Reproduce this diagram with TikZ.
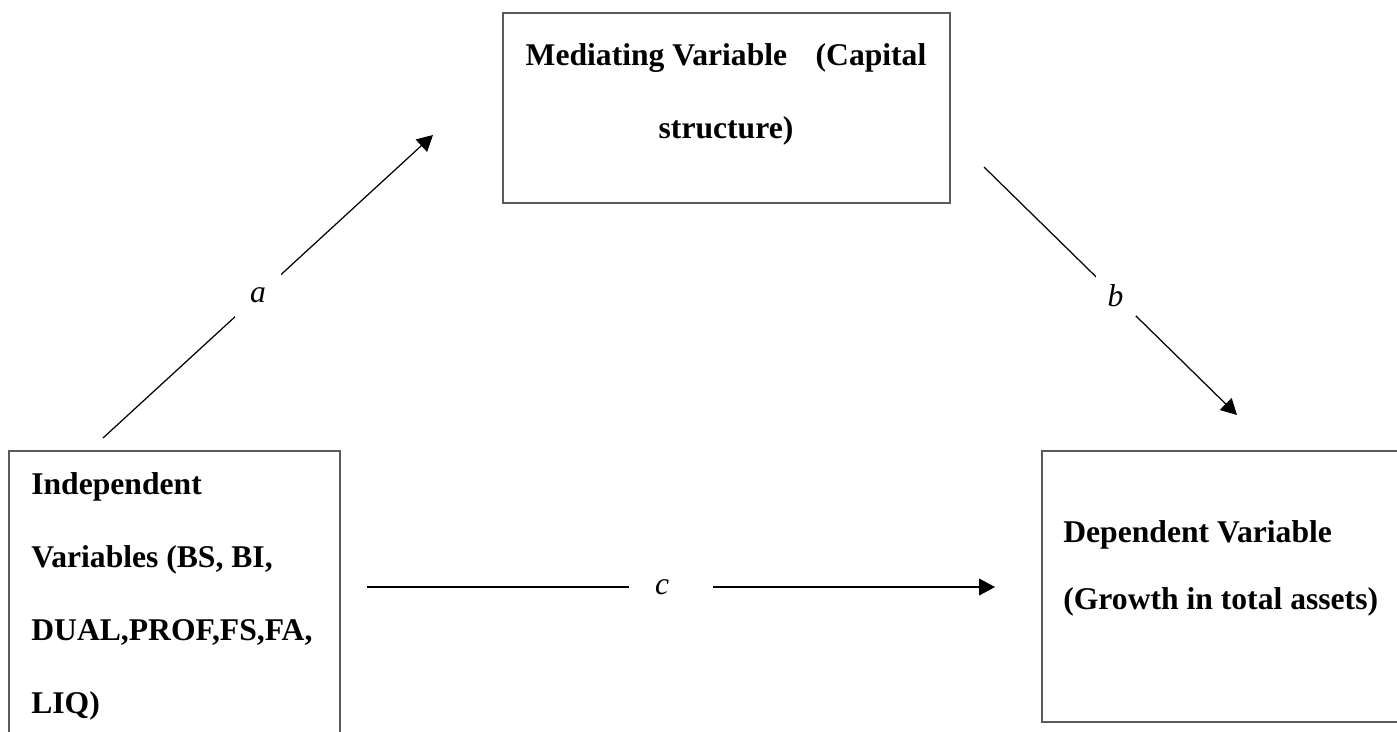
\documentclass[tikz,border=0pt]{standalone}
\usepackage{fontspec}
\setmainfont{Liberation Serif}
\usetikzlibrary{arrows.meta,positioning}

\definecolor{boxgrey}{RGB}{90,90,90}

\begin{document}
\begin{tikzpicture}[x=0.02cm,y=-0.02cm,
	box/.style={draw=boxgrey, line width=1.1pt},
	txt/.style={inner sep=0pt, font=\bfseries\fontsize{18}{41.5}\selectfont},
	path/.style={line width=0.7pt, -{Triangle[length=9pt,width=9.5pt]}},
	lbl/.style={fill=white, inner sep=0pt, font=\itshape\fontsize{18}{20}\selectfont}]
		\clip (0,0) rectangle (1397,731);

		\draw (726.5,108) node [box, minimum width=8.94cm, minimum height=3.8cm] (med) {};
		\draw (174.5,611) node [box, minimum width=6.62cm, minimum height=6.4cm] (ind) {};
		\draw (1231,586.5) node [box, minimum width=7.56cm, minimum height=5.42cm] (dep) {};

		% text lines, anchored at the baseline of the last line
		\draw (726,138) node [txt, anchor=base, align=center] (medtxt)
			{Mediating Variable\hspace{0.9em}(Capital\\structure)};
		\draw (31,713) node [txt, anchor=base west, align=left] (indtxt)
			{Independent\\Variables (BS, BI,\\DUAL,PROF,FS,FA,\\LIQ)};
		\draw (1063,609) node [txt, anchor=base west, align=left,
			font=\bfseries\fontsize{18}{38}\selectfont] (deptxt)
			{Dependent Variable\\(Growth in total assets)};

		\coordinate (a0) at (103,438);
		\coordinate (a1) at (433,135);
		\coordinate (b0) at (984,167);
		\coordinate (b1) at (1237,415);
		\coordinate (c0) at (367,587);
		\coordinate (c1) at (995,587);

		\draw
			(a0) edge [path] node [lbl, pos=0.47, minimum size=0.92cm] {a} (a1)
			(b0) edge [path] node [lbl, pos=0.52, minimum size=0.8cm] {b} (b1)
			(c0) edge [path] node [lbl, pos=0.484, minimum width=1.68cm, minimum height=0.4cm] {c\hspace*{0.35cm}} (c1)
		;
	\end{tikzpicture}
\end{document}
